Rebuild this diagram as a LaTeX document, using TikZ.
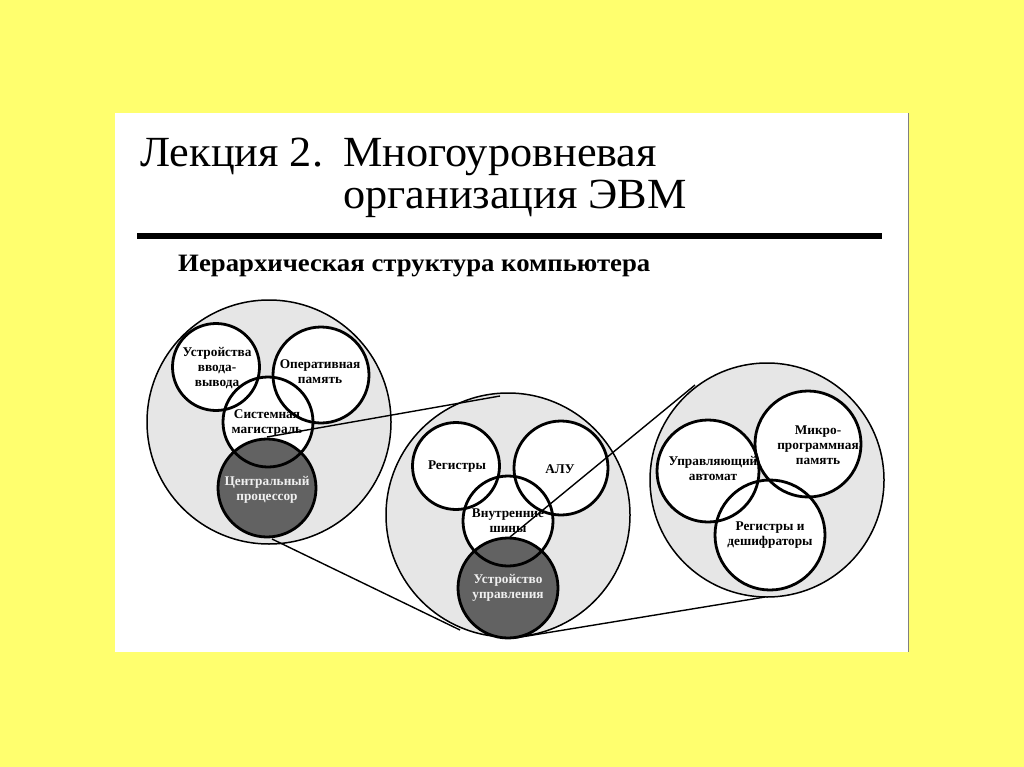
\documentclass[tikz,border=0pt]{standalone}
\usepackage{fontspec}
\setmainfont{Liberation Serif}
\newfontfamily\ttlfont[FakeStretch=1.03]{Liberation Serif}
\newfontfamily\subfont[FakeStretch=1.07]{Liberation Serif}
\definecolor{bgyellow}{RGB}{255,255,110}
\definecolor{bigfill}{RGB}{230,230,230}
\definecolor{darkfill}{RGB}{98,98,98}
\definecolor{darktext}{RGB}{240,240,240}
\tikzset{
  bigc/.style={circle, draw=black, line width=1.5pt, fill=bigfill, inner sep=0pt},
  wfill/.style={circle, fill=white, inner sep=0pt},
  dfill/.style={circle, fill=darkfill, inner sep=0pt},
  ring/.style={circle, draw=black, line width=2.8pt, inner sep=0pt},
  lbl/.style={font=\bfseries\fontsize{13.3}{15}\selectfont, align=center, inner sep=0pt},
  lbldark/.style={lbl, text=darktext},
  conn/.style={draw=black, line width=1.4pt},
  titletext/.style={font=\ttlfont\fontsize{43}{42}\selectfont, inner sep=0pt, anchor=base west}
}
\begin{document}
\begin{tikzpicture}[x=1pt,y=-1pt]
\useasboundingbox (0,0) rectangle (1024,767);
\fill[bgyellow] (0,0) rectangle (1024,767);
\fill[white] (115,113) rectangle (908,652);
\draw[gray, line width=1pt] (908,113) -- (908,652);

% title
\node[titletext] (t1) at (140,167) {Лекция 2.};
\node[titletext] (t2) at (343,167) {Многоуровневая};
\node[titletext] (t3) at (343,209) {организация ЭВМ};
\coordinate (ruleA) at (137,236);
\coordinate (ruleB) at (882,236);
\draw[line width=5pt] (ruleA) -- (ruleB);
\node[font=\subfont\bfseries\fontsize{25}{28}\selectfont, inner sep=0pt, anchor=base west] (sub) at (178,271) {Иерархическая структура компьютера};

% big circles
\node[bigc, minimum size=244pt] (L) at (269,422) {};
\node[bigc, minimum size=244pt] (M) at (508,515) {};
\node[bigc, minimum size=234pt] (R) at (767,480) {};

% fills
\node[wfill, minimum size=87pt] (io) at (216,367) {};
\node[wfill, minimum size=96pt] (ram) at (321,375) {};
\node[wfill, minimum size=90pt] (sys) at (268,422) {};
\node[dfill, minimum size=98pt] (cpu) at (267,488) {};

\node[wfill, minimum size=87pt] (reg) at (456,466) {};
\node[wfill, minimum size=94pt] (alu) at (561,468) {};
\node[wfill, minimum size=90pt] (bus) at (508,521) {};
\node[dfill, minimum size=100pt] (cu) at (508,588) {};

\node[wfill, minimum size=102pt] (ua) at (708,471) {};
\node[wfill, minimum size=106pt] (mpm) at (808,444) {};
\node[wfill, minimum size=110pt] (rd) at (770,535) {};

% outlines
\node[ring, minimum size=87pt] (io-o) at (io) {};
\node[ring, minimum size=96pt] (ram-o) at (ram) {};
\node[ring, minimum size=90pt] (sys-o) at (sys) {};
\node[ring, minimum size=98pt] (cpu-o) at (cpu) {};
\node[ring, minimum size=87pt] (reg-o) at (reg) {};
\node[ring, minimum size=94pt] (alu-o) at (alu) {};
\node[ring, minimum size=90pt] (bus-o) at (bus) {};
\node[ring, minimum size=100pt] (cu-o) at (cu) {};
\node[ring, minimum size=102pt] (ua-o) at (ua) {};
\node[ring, minimum size=106pt] (mpm-o) at (mpm) {};
\node[ring, minimum size=110pt] (rd-o) at (rd) {};

% labels
\node[lbl] (io-t) at (217,368) {Устройства\\ввода-\\вывода};
\node[lbl] (ram-t) at (320,372) {Оперативная\\память};
\node[lbl] (sys-t) at (267,423) {Системная\\магистраль};
\node[lbldark] (cpu-t) at (267,490) {Центральный\\процессор};
\node[lbl] (reg-t) at (457,467) {Регистры};
\node[lbl] (alu-t) at (560,469) {АЛУ};
\node[lbl] (bus-t) at (508,521) {Внутренние\\шины};
\node[lbldark] (cu-t) at (508,588) {Устройство\\управления};
\node[lbl] (ua-t) at (713,468) {Управляющий\\автомат};
\node[lbl] (mpm-t) at (818,445) {Микро-\\программная\\память};
\node[lbl] (rd-t) at (770,535) {Регистры и\\дешифраторы};

% connectors
\coordinate (c1a) at (267,437);
\coordinate (c1b) at (500,396);
\coordinate (c2a) at (272,539);
\coordinate (c2b) at (460,630);
\coordinate (c3a) at (510,537);
\coordinate (c3b) at (695,385);
\coordinate (c4a) at (515,638);
\coordinate (c4b) at (765,597);
\draw[conn] (c1a) -- (c1b);
\draw[conn] (c2a) -- (c2b);
\draw[conn] (c3a) -- (c3b);
\draw[conn] (c4a) -- (c4b);
\end{tikzpicture}
\end{document}
